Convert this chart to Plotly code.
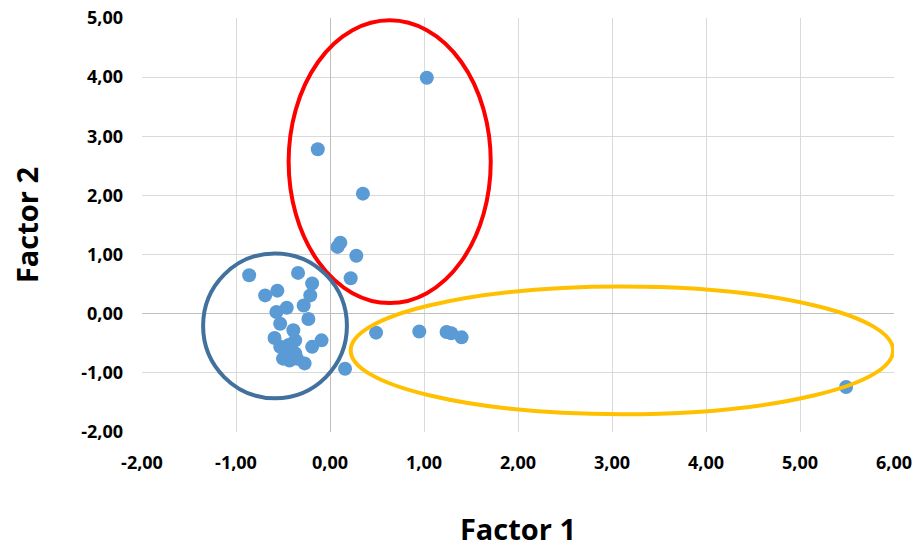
import plotly.graph_objects as go

factor1 = [1.03, -0.13, 0.35, 0.08, 0.11, 0.28, 0.22,
           0.49, 0.95, 1.24, 1.29, 1.40, 5.49, 0.16,
           -0.86, -0.34, -0.19, -0.56, -0.69, -0.21, -0.28, -0.46, -0.57,
           -0.53, -0.23, -0.39, -0.59, -0.37, -0.09, -0.19, -0.53, -0.46,
           -0.37, -0.50, -0.43, -0.35, -0.27, -0.44]
factor2 = [3.99, 2.78, 2.03, 1.13, 1.20, 0.98, 0.60,
           -0.32, -0.30, -0.31, -0.33, -0.40, -1.24, -0.93,
           0.65, 0.69, 0.51, 0.39, 0.31, 0.31, 0.14, 0.10, 0.03,
           -0.17, -0.09, -0.28, -0.41, -0.45, -0.45, -0.56, -0.56, -0.64,
           -0.67, -0.76, -0.79, -0.76, -0.84, -0.53]

tick_vals_x = [-2, -1, 0, 1, 2, 3, 4, 5, 6]
tick_text_x = ["-2,00", "-1,00", "0,00", "1,00", "2,00", "3,00", "4,00", "5,00", "6,00"]
tick_vals_y = [-2, -1, 0, 1, 2, 3, 4, 5]
tick_text_y = ["-2,00", "-1,00", "0,00", "1,00", "2,00", "3,00", "4,00", "5,00"]

# ellipse groupings (data-space bounding boxes): x0, x1, y0, y1, colour
groups = [
    (-0.44, 1.71, 0.18, 4.96, "#FF0000"),
    (-1.35, 0.18, -1.43, 1.02, "#41719C"),
    (0.22, 5.99, -1.70, 0.46, "#FFC000"),
]

font_family = "Open Sans, Lato, sans-serif"

fig = go.Figure()
fig.add_trace(go.Scatter(
    x=factor1, y=factor2, mode="markers",
    marker=dict(size=14, color="#5B9BD5"),
    showlegend=False,
))

for x0, x1, y0, y1, col in groups:
    fig.add_shape(type="circle", xref="x", yref="y", x0=x0, x1=x1, y0=y0, y1=y1,
                  line=dict(color=col, width=4), layer="above")

axis_common = dict(
    showgrid=True, gridcolor="#D9D9D9", gridwidth=1,
    zeroline=True, zerolinecolor="#BFBFBF", zerolinewidth=1,
    showline=False, automargin=False,
    tickfont=dict(family=font_family, size=18, color="#000000", weight="bold"),
    ticks="",
    ticklabelstandoff=18,
    ticklabeloverflow="allow",
)

fig.update_xaxes(range=[-2, 6], tickvals=tick_vals_x, ticktext=tick_text_x,
                 title=dict(text="<b>Factor 1</b>", font=dict(family=font_family, size=29, color="#000"), standoff=52),
                 **axis_common)
fig.update_yaxes(range=[-2, 5], tickvals=tick_vals_y, ticktext=tick_text_y,
                 title=dict(text="<b>Factor 2</b>", font=dict(family=font_family, size=29, color="#000"), standoff=34),
                 **axis_common)

fig.update_layout(
    width=915, height=548,
    margin=dict(l=142, r=21, t=18, b=116),
    plot_bgcolor="white", paper_bgcolor="white",
)

fig.write_html("out.html", config={"displayModeBar": False},
               post_script="document.body.style.margin='0';")
